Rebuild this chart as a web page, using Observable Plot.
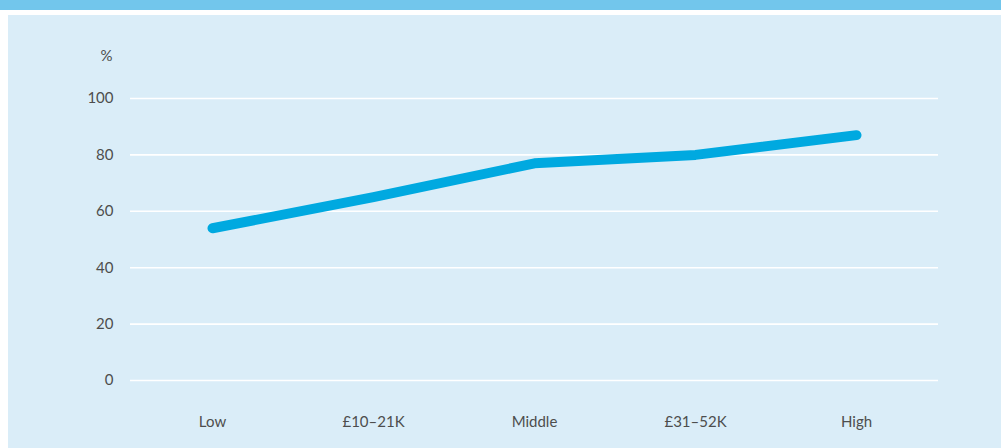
<!DOCTYPE html>
<html>
<head>
<meta charset="utf-8">
<script src="https://cdn.jsdelivr.net/npm/d3@7"></script>
<script src="https://cdn.jsdelivr.net/npm/@observablehq/plot@0.6"></script>
<style>
  html, body { margin: 0; padding: 0; background: #ffffff; width: 1001px; height: 448px; overflow: hidden; }
  .band { height: 10px; background: #72c6ec; }
  .gap { height: 5px; }
  .panel { margin-left: 8px; width: 993px; height: 433px; background: #daedf8; }
  .panel svg { display: block; }
</style>
</head>
<body>
<div class="band"></div>
<div class="gap"></div>
<div class="panel" id="chart"></div>
<script>
const categories = ["Low", "£10–21K", "Middle", "£31–52K", "High"];
const values = [54, 65, 77, 80, 87];
const yTicks = [0, 20, 40, 60, 80, 100];
const unitLabel = "%";

const data = categories.map((c, i) => ({category: c, value: values[i]}));

const chart = Plot.plot({
  width: 993,
  height: 433,
  marginLeft: 122,
  marginRight: 63,
  marginTop: 83,
  marginBottom: 68,
  style: {background: "transparent", fontFamily: "Lato, 'Open Sans', sans-serif", fontSize: "15px", color: "#4d4d4d"},
  x: {type: "point", domain: categories, padding: 0.5, label: null},
  y: {domain: [0, 100], ticks: yTicks, label: null},
  marks: [
    Plot.ruleY(yTicks, {stroke: "#ffffff", strokeWidth: 1.6}),
    Plot.axisY({ticks: yTicks, tickSize: 0, tickPadding: 17, label: null, fontSize: 15}),
    Plot.axisX({tickSize: 0, tickPadding: 36, label: null, fontSize: 15}),
    Plot.text([unitLabel], {frameAnchor: "top-left", textAnchor: "start", dx: -30, dy: -48, fontSize: 15, fill: "#4d4d4d"}),
    Plot.line(data, {x: "category", y: "value", stroke: "#00a9e0", strokeWidth: 10, strokeLinecap: "round", strokeLinejoin: "round"})
  ]
});
document.getElementById("chart").appendChild(chart);
</script>
</body>
</html>
